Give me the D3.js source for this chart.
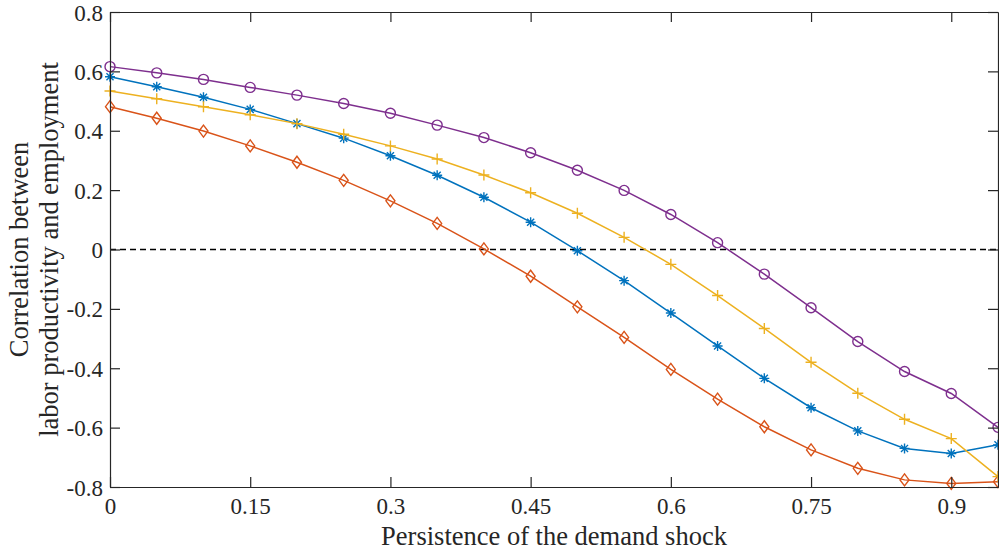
<!DOCTYPE html>
<html>
<head>
<meta charset="utf-8">
<script src="https://cdn.jsdelivr.net/npm/d3@7"></script>
<style>
  html, body { margin: 0; padding: 0; background: #fff; }
  svg { display: block; }
  svg text { font-family: "Liberation Serif", "DejaVu Serif", serif !important; }
</style>
</head>
<body>
<svg id="chart" width="999" height="554"></svg>
<script>
// persistence values on the x axis
const persistence = [0, 0.05, 0.1, 0.15, 0.2, 0.25, 0.3, 0.35, 0.4, 0.45,
                     0.5, 0.55, 0.6, 0.65, 0.7, 0.75, 0.8, 0.85, 0.9, 0.95]

const blueStar = [0.582, 0.548, 0.513, 0.472, 0.424, 0.375, 0.316, 0.250, 0.176, 0.092,
                  -0.004, -0.105, -0.214, -0.325, -0.434, -0.533, -0.611, -0.670, -0.687, -0.658]
const redDiamond = [0.481, 0.442, 0.399, 0.349, 0.294, 0.233, 0.164, 0.088, 0.002, -0.090,
                    -0.193, -0.296, -0.404, -0.504, -0.597, -0.675, -0.737, -0.776, -0.788, -0.782]
const yellowPlus = [0.534, 0.508, 0.481, 0.454, 0.424, 0.388, 0.349, 0.305, 0.251, 0.191,
                    0.122, 0.041, -0.050, -0.155, -0.266, -0.380, -0.484, -0.572, -0.637, -0.765]
const purpleCircle = [0.616, 0.595, 0.573, 0.546, 0.520, 0.492, 0.459, 0.419, 0.377, 0.326,
                      0.267, 0.199, 0.118, 0.023, -0.083, -0.196, -0.310, -0.411, -0.485, -0.599]

const xTicks = [0, 0.15, 0.3, 0.45, 0.6, 0.75, 0.9]
const yTicks = [-0.8, -0.6, -0.4, -0.2, 0, 0.2, 0.4, 0.6, 0.8]

const series = [
    {values: blueStar, color: "#0072BD", marker: "star"},
    {values: redDiamond, color: "#D95319", marker: "diamond"},
    {values: yellowPlus, color: "#EDB120", marker: "plus"},
    {values: purpleCircle, color: "#7E2F8E", marker: "circle"}
]

const margin = {left: 110, right: 1, top: 12, bottom: 67}
const width = 999, height = 554
const axisColor = "#262626"

let svg = d3.select("#chart")

let x = d3.scaleLinear()
    .domain([0, 0.95])
    .range([margin.left, width - margin.right])

let y = d3.scaleLinear()
    .domain([-0.8, 0.8])
    .range([height - margin.bottom, margin.top])

// zero reference line
svg.append("line")
    .attr("x1", x(0)).attr("x2", x(0.95))
    .attr("y1", y(0)).attr("y2", y(0))
    .attr("stroke", "#000")
    .attr("stroke-width", 1.5)
    .attr("stroke-dasharray", "6,4")

let line = d3.line()
    .x((d, i) => x(persistence[i]))
    .y(d => y(d))

series.forEach(s => {
    svg.append("path")
        .attr("fill", "none")
        .attr("stroke", s.color)
        .attr("stroke-width", 1.5)
        .attr("d", line(s.values))

    let g = svg.append("g")
        .attr("fill", "none")
        .attr("stroke", s.color)
        .attr("stroke-width", 1.4)

    s.values.forEach((v, i) => {
        let cx = x(persistence[i]), cy = y(v)
        if (s.marker === "circle") {
            g.append("circle").attr("cx", cx).attr("cy", cy).attr("r", 5)
        } else if (s.marker === "diamond") {
            g.append("path").attr("d", `M${cx},${cy - 6}L${cx + 4.5},${cy}L${cx},${cy + 6}L${cx - 4.5},${cy}Z`)
        } else if (s.marker === "plus") {
            g.append("path").attr("d", `M${cx - 5.5},${cy}H${cx + 5.5}M${cx},${cy - 5.5}V${cy + 5.5}`)
        } else {
            let r = 5, d = r * 0.707
            g.append("path").attr("d",
                `M${cx - r},${cy}H${cx + r}M${cx},${cy - r}V${cy + r}` +
                `M${cx - d},${cy - d}L${cx + d},${cy + d}M${cx - d},${cy + d}L${cx + d},${cy - d}`)
        }
    })
})

// box axes with inward ticks
let axisG = svg.append("g").attr("color", axisColor)
let fmtY = d => d === 0 ? "0" : d3.format(".1f")(d).replace("\u2212", "-")

let xAxis = axisG.append("g")
    .attr("transform", `translate(0,${y(-0.8)})`)
    .call(d3.axisBottom(x).tickValues(xTicks).tickFormat(d3.format("")).tickSizeInner(-10).tickSizeOuter(0).tickPadding(11))
let xTop = axisG.append("g")
    .attr("transform", `translate(0,${y(0.8)})`)
    .call(d3.axisTop(x).tickValues(xTicks).tickFormat("").tickSizeInner(-10).tickSizeOuter(0))
let yAxis = axisG.append("g")
    .attr("transform", `translate(${x(0)},0)`)
    .call(d3.axisLeft(y).tickValues(yTicks).tickFormat(fmtY).tickSizeInner(-10).tickSizeOuter(0).tickPadding(7))
let yRight = axisG.append("g")
    .attr("transform", `translate(${x(0.95)},0)`)
    .call(d3.axisRight(y).tickValues(yTicks).tickFormat("").tickSizeInner(-10).tickSizeOuter(0))

axisG.selectAll("g").attr("font-family", null)
axisG.selectAll(".domain").attr("stroke-width", 1.2)
axisG.selectAll(".tick line").attr("stroke-width", 1.2)
axisG.selectAll(".tick text")
    .attr("font-size", 23)
    .attr("fill", axisColor)
yAxis.selectAll(".tick text").attr("dy", "0.35em")

// axis titles
svg.append("text")
    .attr("x", (x(0) + x(0.95)) / 2)
    .attr("y", 545)
    .attr("text-anchor", "middle")
    .attr("font-size", 26.5)
    .attr("fill", axisColor)
    .text("Persistence of the demand shock")

let yl = svg.append("text")
    .attr("transform", `translate(28,${y(0)}) rotate(-90)`)
    .attr("text-anchor", "middle")
    .attr("font-size", 26.5)
    .attr("fill", axisColor)
yl.append("tspan").attr("x", 0).attr("dy", 0).text("Correlation between")
yl.append("tspan").attr("x", 0).attr("dy", 30).text("labor productivity and employment")
</script>
</body>
</html>
